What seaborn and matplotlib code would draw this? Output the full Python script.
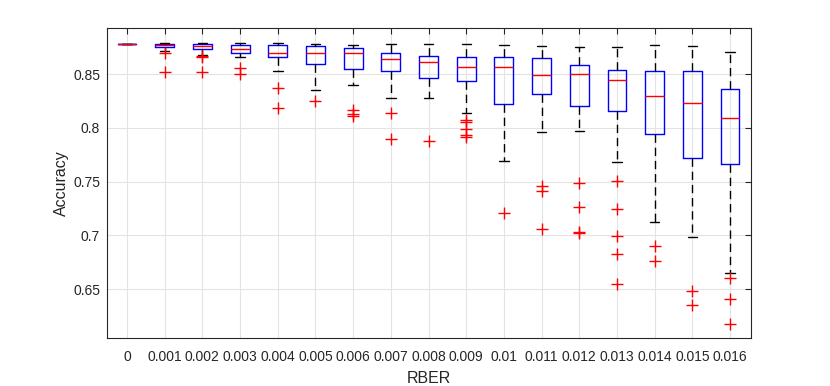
import pandas as pd
import matplotlib
matplotlib.use("Agg")
import matplotlib.pyplot as plt
import seaborn as sns

# RBER categories
rber = ["0", "0.001", "0.002", "0.003", "0.004", "0.005", "0.006", "0.007", "0.008",
        "0.009", "0.01", "0.011", "0.012", "0.013", "0.014", "0.015", "0.016"]

# five-number summaries (whisker ends, quartiles, median)
lo_whisk = [0.878, 0.8714, 0.8677, 0.8658, 0.8528, 0.8348, 0.8398, 0.8277, 0.8277,
            0.8140, 0.7694, 0.7964, 0.7967, 0.7679, 0.7122, 0.6988, 0.6648]
q1 = [0.878, 0.8748, 0.8730, 0.8700, 0.8660, 0.8593, 0.8544, 0.8525, 0.8466,
      0.8432, 0.8218, 0.8311, 0.8203, 0.8153, 0.7945, 0.7717, 0.7661]
median = [0.878, 0.8770, 0.8760, 0.8735, 0.8698, 0.8698, 0.8698, 0.8640, 0.8612,
          0.8565, 0.8562, 0.8494, 0.8500, 0.8447, 0.8296, 0.8228, 0.8091]
q3 = [0.878, 0.8779, 0.8776, 0.8767, 0.8767, 0.8763, 0.8745, 0.8700, 0.8670,
      0.8655, 0.8660, 0.8646, 0.8580, 0.8540, 0.8525, 0.8525, 0.8360]
hi_whisk = [0.878, 0.8790, 0.8790, 0.8790, 0.8790, 0.8776, 0.8770, 0.8779, 0.8782,
            0.8779, 0.8770, 0.8763, 0.8748, 0.8754, 0.8770, 0.8763, 0.8704]

# outliers (red crosses)
out_rber = (["0.001"] * 2 + ["0.002"] * 3 + ["0.003"] * 2 + ["0.004"] * 2 + ["0.005"]
            + ["0.006"] * 3 + ["0.007"] * 2 + ["0.008"] + ["0.009"] * 5 + ["0.01"]
            + ["0.011"] * 3 + ["0.012"] * 4 + ["0.013"] * 5 + ["0.014"] * 2
            + ["0.015"] * 2 + ["0.016"] * 3)
out_acc = [0.8698, 0.852,
           0.8667, 0.8660, 0.8516,
           0.8559, 0.850,
           0.8367, 0.8187,
           0.8252,
           0.8165, 0.8125, 0.8110,
           0.8135, 0.7896,
           0.7875,
           0.8073, 0.8054, 0.7986, 0.7930, 0.7912,
           0.7205,
           0.7459, 0.7416, 0.7057,
           0.7484, 0.7267, 0.7034, 0.7020,
           0.7510, 0.7243, 0.6997, 0.6824, 0.6548,
           0.6904, 0.6759,
           0.6486, 0.6350,
           0.6600, 0.6406, 0.6174]

rows = []
for i, r in enumerate(rber):
    for v in (lo_whisk[i], q1[i], median[i], q3[i], hi_whisk[i]):
        rows.append({"RBER": r, "Accuracy": v})
box_df = pd.DataFrame(rows)
out_df = pd.DataFrame({"RBER": out_rber, "Accuracy": out_acc})

sns.set_style("whitegrid")
plt.rcParams["font.family"] = ["Liberation Sans", "DejaVu Sans"]

fig = plt.figure(figsize=(8.3, 3.86), dpi=100)
ax = fig.add_axes([0.129, 0.1244, 0.776, 0.8031])

dark = "#262626"
sns.boxplot(data=box_df, x="RBER", y="Accuracy", order=rber, whis=(0, 100),
            width=0.5, fill=False, showfliers=False, ax=ax,
            boxprops=dict(color="#0000ff", linewidth=1.0),
            medianprops=dict(color="#ff0000", linewidth=1.0),
            whiskerprops=dict(color="black", linewidth=1.0, linestyle=(0, (6, 3.5))),
            capprops=dict(color="black", linewidth=1.0))
sns.stripplot(data=out_df, x="RBER", y="Accuracy", order=rber, jitter=False,
              marker="+", color="#ff0000", size=8, linewidth=1.0, ax=ax)

ax.set_ylim(0.6046, 0.8928)
ax.set_xlim(-0.53, 16.56)
ax.set_yticks([0.65, 0.7, 0.75, 0.8, 0.85])
ax.set_yticklabels(["0.65", "0.7", "0.75", "0.8", "0.85"])
ax.grid(True, color="#e3e3e3", linewidth=0.8)
ax.set_axisbelow(True)
for s in ax.spines.values():
    s.set_visible(True)
    s.set_color(dark)
    s.set_linewidth(0.8)
ax.tick_params(direction="in", length=4.5, width=0.8, color=dark, labelcolor=dark,
               labelsize=10, top=True, right=True)
ax.tick_params(axis="x", pad=9)
ax.tick_params(axis="y", pad=5)
ax.set_xlabel("RBER", fontsize=11.5, color=dark, labelpad=5)
ax.set_ylabel("Accuracy", fontsize=11.5, color=dark, labelpad=3)

fig.savefig("out.png", dpi=100)
